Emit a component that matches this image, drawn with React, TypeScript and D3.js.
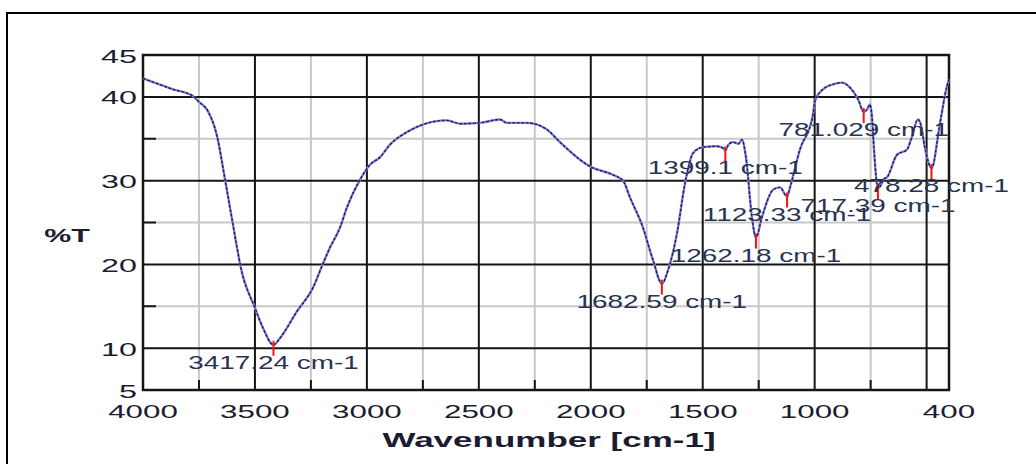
import React from 'react';
import * as d3 from 'd3';

// FTIR spectrum
const wavenumbers = [
  4000, 3866, 3777, 3750, 3710, 3670, 3634, 3580, 3567, 3500, 3464, 3417, 3388, 3312, 3241, 3196,
  3165, 3120, 3089, 3031, 2986, 2941, 2897, 2821, 2750, 2643, 2584, 2495, 2406, 2374, 2285, 2196,
  2138, 2048, 2004, 1901, 1856, 1825, 1767, 1722, 1682, 1655, 1615, 1579, 1543, 1499, 1436, 1410,
  1399, 1385, 1365, 1340, 1325, 1307, 1280, 1262, 1236, 1186, 1155, 1123, 1110, 1066, 1008, 999,
  963, 918, 878, 842, 806, 781, 766, 753, 744, 735, 717, 708, 690, 677, 632, 588, 566, 539, 526,
  508, 478, 440, 409, 400,
];
const transmittance = [
  42.2, 40.9, 40.1, 39.4, 38.3, 35.4, 30.2, 22.0, 20.1, 14.8, 12.4, 10.4, 11.2, 14.4, 17.2, 20.1,
  22.0, 24.4, 26.8, 30.1, 31.9, 32.8, 34.3, 35.8, 36.7, 37.2, 36.8, 36.9, 37.3, 36.9, 36.9, 36.1,
  34.6, 32.5, 31.7, 30.7, 30.0, 28.0, 24.4, 20.5, 17.7, 19.3, 23.7, 29.7, 33.3, 34.0, 34.1, 33.9,
  33.6, 34.3, 34.6, 34.4, 34.9, 32.8, 25.6, 23.2, 25.6, 28.9, 29.2, 28.1, 29.2, 33.7, 37.8, 39.5,
  40.9, 41.5, 41.7, 41.1, 39.7, 38.2, 38.5, 39.1, 37.6, 33.7, 29.1, 29.3, 30.2, 30.4, 33.1, 33.7,
  35.2, 37.3, 36.7, 34.0, 31.5, 36.9, 41.3, 42.1,
];

const peakWavenumbers = [3417.24, 1682.59, 1399.1, 1262.18, 1123.33, 781.029, 717.39, 478.28];
const peakTransmittance = [10.4, 17.7, 33.6, 23.2, 28.1, 38.2, 29.1, 31.5];
const peakLabels = [
  '3417.24 cm-1', '1682.59 cm-1', '1399.1 cm-1', '1262.18 cm-1',
  '1123.33 cm-1', '781.029 cm-1', '717.39 cm-1', '478.28 cm-1',
];

const xTickValues = [4000, 3500, 3000, 2500, 2000, 1500, 1000, 400];
const xMajorGrid = [3500, 3000, 2500, 2000, 1500, 1000, 500];
const xMinorGrid = [3750, 3250, 2750, 2250, 1750, 1250, 750];
const yTickValues = [45, 40, 30, 20, 10, 5];
const yMajorGrid = [40, 30, 20, 10];
const yMinorGrid = [35, 25, 15];

const FONT = '"Liberation Sans", Arial, Helvetica, sans-serif';

const App = () => {
  const x = d3.scaleLinear().domain([4000, 400]).range([143, 949]);
  const y = d3.scaleLinear().domain([5, 45]).range([390, 55]);

  const points = wavenumbers.map((w, i) => [w, transmittance[i]] as [number, number]);
  const line = d3.line<[number, number]>()
    .x(d => x(d[0]))
    .y(d => y(d[1]))
    .curve(d3.curveMonotoneX);
  const path = line(points) || '';

  const [x0, x1] = x.range();
  const [y0, y1] = y.range();

  // the source image is stretched sideways, so are its letters
  const stretched = (tx: number, ty: number, sx: number) => `translate(${tx},${ty}) scale(${sx},1)`;

  return (
    <svg width={1036} height={464} style={{ position: 'absolute', left: 0, top: 0, background: '#fff' }}>
      <rect x={7} y={13} width={1100} height={1000} fill="none" stroke="#000" strokeWidth={2} />

      {xMinorGrid.map(v => (
        <line key={'xm' + v} x1={x(v)} x2={x(v)} y1={y1} y2={y0} stroke="#c8c8c8" strokeWidth={2} />
      ))}
      {yMinorGrid.map(v => (
        <line key={'ym' + v} x1={x0} x2={x1} y1={y(v)} y2={y(v)} stroke="#c8c8c8" strokeWidth={2} />
      ))}
      {xMajorGrid.map(v => (
        <line key={'xM' + v} x1={x(v)} x2={x(v)} y1={y1} y2={y0} stroke="#151515" strokeWidth={2} />
      ))}
      {yMajorGrid.map(v => (
        <line key={'yM' + v} x1={x0} x2={x1} y1={y(v)} y2={y(v)} stroke="#151515" strokeWidth={2} />
      ))}
      {/* short ticks on the minor lines */}
      {xMinorGrid.map(v => (
        <line key={'xt' + v} x1={x(v)} x2={x(v)} y1={y0 - 10} y2={y0} stroke="#151515" strokeWidth={2} />
      ))}
      {yMinorGrid.map(v => (
        <line key={'yt' + v} x1={x0} x2={x0 + 13} y1={y(v)} y2={y(v)} stroke="#151515" strokeWidth={2} />
      ))}
      <rect x={x0} y={y1} width={x1 - x0} height={y0 - y1} fill="none" stroke="#151515" strokeWidth={2.5} />

      <path d={path} fill="none" stroke="#8a8ac4" strokeWidth={2.4} strokeLinejoin="round" />
      <path d={path} fill="none" stroke="#1a1a80" strokeWidth={1.4} strokeDasharray="3 1.5" strokeLinejoin="round" />

      {peakWavenumbers.map((w, i) => (
        <line key={'pk' + i} x1={x(w)} x2={x(w)} y1={y(peakTransmittance[i]) - 4} y2={y(peakTransmittance[i]) + 11}
          stroke="#ff1010" strokeWidth={2} />
      ))}
      {peakWavenumbers.map((w, i) => (
        <text key={'pl' + i} transform={stretched(x(w), y(peakTransmittance[i]) + 24, 1.55)}
          textAnchor="middle" fontFamily={FONT} fontSize={18} fill="#283350">
          {peakLabels[i]}
        </text>
      ))}

      {yTickValues.map(v => (
        <text key={'yl' + v} transform={stretched(137, y(v) + 7.5, 1.7)} textAnchor="end"
          fontFamily={FONT} fontSize={19} fill="#1c1c30">
          {v}
        </text>
      ))}
      {xTickValues.map(v => (
        <text key={'xl' + v} transform={stretched(x(v), 418, 1.65)} textAnchor="middle"
          fontFamily={FONT} fontSize={19} fill="#1c1c30">
          {v}
        </text>
      ))}

      <text transform={stretched(67, 242, 1.6)} textAnchor="middle" fontFamily={FONT}
        fontSize={19} fontWeight="bold" fill="#1c1c30">%T</text>
      <text transform={stretched(549, 447, 1.75)} textAnchor="middle" fontFamily={FONT}
        fontSize={20} fontWeight="bold" fill="#1c1c30">Wavenumber [cm-1]</text>
    </svg>
  );
};

export default App;
